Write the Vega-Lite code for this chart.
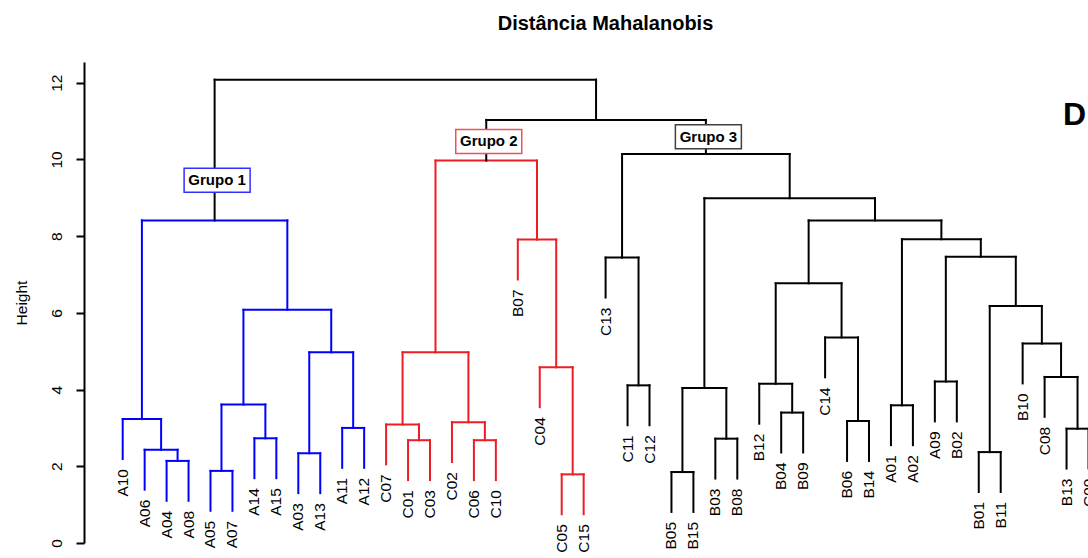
{
  "$schema": "https://vega.github.io/schema/vega-lite/v6.json",
  "width": 1004,
  "height": 481,
  "autosize": {"type": "none"},
  "padding": {"left": 84, "top": 62, "right": 0, "bottom": 15},
  "background": "white",
  "title": {"text": "Distância Mahalanobis", "font": "Liberation Sans", "fontSize": 20, "fontWeight": "bold", "color": "#000000", "anchor": "middle", "frame": "group", "dx": 19.5, "baseline": "alphabetic", "offset": 12},
  "datasets": {
    "merges": [
      {"x1": 3, "h1": 1.10, "x2": 4, "h2": 1.10, "h": 2.14, "g": "1"},
      {"x1": 2, "h1": 1.39, "x2": 3.5, "h2": 2.14, "h": 2.43, "g": "1"},
      {"x1": 1, "h1": 2.19, "x2": 2.75, "h2": 2.43, "h": 3.23, "g": "1"},
      {"x1": 5, "h1": 0.84, "x2": 6, "h2": 0.84, "h": 1.88, "g": "1"},
      {"x1": 7, "h1": 1.69, "x2": 8, "h2": 1.69, "h": 2.73, "g": "1"},
      {"x1": 5.5, "h1": 1.88, "x2": 7.5, "h2": 2.73, "h": 3.61, "g": "1"},
      {"x1": 9, "h1": 1.30, "x2": 10, "h2": 1.30, "h": 2.34, "g": "1"},
      {"x1": 11, "h1": 1.96, "x2": 12, "h2": 1.96, "h": 3.00, "g": "1"},
      {"x1": 9.5, "h1": 2.34, "x2": 11.5, "h2": 3.00, "h": 4.97, "g": "1"},
      {"x1": 6.5, "h1": 3.61, "x2": 10.5, "h2": 4.97, "h": 6.08, "g": "1"},
      {"x1": 1.875, "h1": 3.23, "x2": 8.5, "h2": 6.08, "h": 8.41, "g": "1"},
      {"x1": 14, "h1": 1.64, "x2": 15, "h2": 1.64, "h": 2.68, "g": "2"},
      {"x1": 13, "h1": 2.05, "x2": 14.5, "h2": 2.68, "h": 3.09, "g": "2"},
      {"x1": 17, "h1": 1.64, "x2": 18, "h2": 1.64, "h": 2.68, "g": "2"},
      {"x1": 16, "h1": 2.11, "x2": 17.5, "h2": 2.68, "h": 3.15, "g": "2"},
      {"x1": 13.75, "h1": 3.09, "x2": 16.75, "h2": 3.15, "h": 4.97, "g": "2"},
      {"x1": 21, "h1": 0.75, "x2": 22, "h2": 0.75, "h": 1.79, "g": "2"},
      {"x1": 20, "h1": 3.54, "x2": 21.5, "h2": 1.79, "h": 4.58, "g": "2"},
      {"x1": 19, "h1": 6.87, "x2": 20.75, "h2": 4.58, "h": 7.91, "g": "2"},
      {"x1": 15.25, "h1": 4.97, "x2": 19.875, "h2": 7.91, "h": 9.97, "g": "2"},
      {"x1": 24, "h1": 3.07, "x2": 25, "h2": 3.07, "h": 4.11, "g": "3"},
      {"x1": 23, "h1": 6.40, "x2": 24.5, "h2": 4.11, "h": 7.44, "g": "3"},
      {"x1": 26, "h1": 0.81, "x2": 27, "h2": 0.81, "h": 1.85, "g": "3"},
      {"x1": 28, "h1": 1.68, "x2": 29, "h2": 1.68, "h": 2.72, "g": "3"},
      {"x1": 26.5, "h1": 1.85, "x2": 28.5, "h2": 2.72, "h": 4.04, "g": "3"},
      {"x1": 31, "h1": 2.36, "x2": 32, "h2": 2.36, "h": 3.40, "g": "3"},
      {"x1": 30, "h1": 3.11, "x2": 31.5, "h2": 3.40, "h": 4.15, "g": "3"},
      {"x1": 34, "h1": 2.14, "x2": 35, "h2": 2.14, "h": 3.18, "g": "3"},
      {"x1": 33, "h1": 4.32, "x2": 34.5, "h2": 3.18, "h": 5.36, "g": "3"},
      {"x1": 30.75, "h1": 4.15, "x2": 33.75, "h2": 5.36, "h": 6.77, "g": "3"},
      {"x1": 36, "h1": 2.55, "x2": 37, "h2": 2.55, "h": 3.59, "g": "3"},
      {"x1": 38, "h1": 3.17, "x2": 39, "h2": 3.17, "h": 4.21, "g": "3"},
      {"x1": 40, "h1": 1.33, "x2": 41, "h2": 1.33, "h": 2.37, "g": "3"},
      {"x1": 44, "h1": 1.94, "x2": 45, "h2": 1.94, "h": 2.98, "g": "3"},
      {"x1": 43, "h1": 3.29, "x2": 44.5, "h2": 2.98, "h": 4.33, "g": "3"},
      {"x1": 42, "h1": 4.16, "x2": 43.75, "h2": 4.33, "h": 5.20, "g": "3"},
      {"x1": 40.5, "h1": 2.37, "x2": 42.875, "h2": 5.20, "h": 6.18, "g": "3"},
      {"x1": 38.5, "h1": 4.21, "x2": 41.6875, "h2": 6.18, "h": 7.46, "g": "3"},
      {"x1": 36.5, "h1": 3.59, "x2": 40.09375, "h2": 7.46, "h": 7.92, "g": "3"},
      {"x1": 32.25, "h1": 6.77, "x2": 38.296875, "h2": 7.92, "h": 8.41, "g": "3"},
      {"x1": 27.5, "h1": 4.04, "x2": 35.2734, "h2": 8.41, "h": 8.99, "g": "3"},
      {"x1": 23.75, "h1": 7.44, "x2": 31.3867, "h2": 8.99, "h": 10.14, "g": "3"},
      {"x1": 17.5625, "h1": 9.97, "x2": 27.5684, "h2": 10.14, "h": 11.03, "g": "0"},
      {"x1": 5.1875, "h1": 8.41, "x2": 22.5654, "h2": 11.03, "h": 12.08, "g": "0"}
    ],
    "leaves": [
      {"label": "A10", "x": 1, "h": 2.19}, {"label": "A06", "x": 2, "h": 1.39},
      {"label": "A04", "x": 3, "h": 1.10}, {"label": "A08", "x": 4, "h": 1.10},
      {"label": "A05", "x": 5, "h": 0.84}, {"label": "A07", "x": 6, "h": 0.84},
      {"label": "A14", "x": 7, "h": 1.69}, {"label": "A15", "x": 8, "h": 1.69},
      {"label": "A03", "x": 9, "h": 1.30}, {"label": "A13", "x": 10, "h": 1.30},
      {"label": "A11", "x": 11, "h": 1.96}, {"label": "A12", "x": 12, "h": 1.96},
      {"label": "C07", "x": 13, "h": 2.05}, {"label": "C01", "x": 14, "h": 1.64},
      {"label": "C03", "x": 15, "h": 1.64}, {"label": "C02", "x": 16, "h": 2.11},
      {"label": "C06", "x": 17, "h": 1.64}, {"label": "C10", "x": 18, "h": 1.64},
      {"label": "B07", "x": 19, "h": 6.87}, {"label": "C04", "x": 20, "h": 3.54},
      {"label": "C05", "x": 21, "h": 0.75}, {"label": "C15", "x": 22, "h": 0.75},
      {"label": "C13", "x": 23, "h": 6.40}, {"label": "C11", "x": 24, "h": 3.07},
      {"label": "C12", "x": 25, "h": 3.07}, {"label": "B05", "x": 26, "h": 0.81},
      {"label": "B15", "x": 27, "h": 0.81}, {"label": "B03", "x": 28, "h": 1.68},
      {"label": "B08", "x": 29, "h": 1.68}, {"label": "B12", "x": 30, "h": 3.11},
      {"label": "B04", "x": 31, "h": 2.36}, {"label": "B09", "x": 32, "h": 2.36},
      {"label": "C14", "x": 33, "h": 4.32}, {"label": "B06", "x": 34, "h": 2.14},
      {"label": "B14", "x": 35, "h": 2.14}, {"label": "A01", "x": 36, "h": 2.55},
      {"label": "A02", "x": 37, "h": 2.55}, {"label": "A09", "x": 38, "h": 3.17},
      {"label": "B02", "x": 39, "h": 3.17}, {"label": "B01", "x": 40, "h": 1.33},
      {"label": "B11", "x": 41, "h": 1.33}, {"label": "B10", "x": 42, "h": 4.16},
      {"label": "C08", "x": 43, "h": 3.29}, {"label": "B13", "x": 44, "h": 1.94},
      {"label": "C09", "x": 45, "h": 1.94}
    ],
    "groups": [
      {"label": "Grupo 1", "x": 5.1875, "h": 9.46, "g": "1"},
      {"label": "Grupo 2", "x": 17.5625, "h": 10.47, "g": "2"},
      {"label": "Grupo 3", "x": 27.5684, "h": 10.59, "g": "3"}
    ],
    "corner": [
      {"label": "D", "x": 43.84, "h": 10.886}
    ]
  },
  "layer": [
    {
      "data": {"name": "merges"},
      "mark": {"type": "rule", "strokeWidth": 2, "strokeCap": "square"},
      "encoding": {
        "x": {"field": "x1", "type": "quantitative", "scale": {"domain": [-0.763, 44.977], "nice": false, "zero": false}, "axis": null},
        "x2": {"field": "x2"},
        "y": {"field": "h", "type": "quantitative", "scale": {"domain": [0, 12.54], "nice": false, "zero": false}, "title": "Height"},
        "color": {"field": "g", "type": "nominal", "scale": {"domain": ["0", "1", "2", "3"], "range": ["#000000", "#0000FF", "#EE1C25", "#000000"]}, "legend": null}
      }
    },
    {
      "data": {"name": "merges"},
      "mark": {"type": "rule", "strokeWidth": 2, "strokeCap": "square"},
      "encoding": {
        "x": {"field": "x1", "type": "quantitative", "axis": null},
        "y": {"field": "h", "type": "quantitative", "title": "Height"},
        "y2": {"field": "h1"},
        "color": {"field": "g", "type": "nominal", "scale": {"domain": ["0", "1", "2", "3"], "range": ["#000000", "#0000FF", "#EE1C25", "#000000"]}, "legend": null}
      }
    },
    {
      "data": {"name": "merges"},
      "mark": {"type": "rule", "strokeWidth": 2, "strokeCap": "square"},
      "encoding": {
        "x": {"field": "x2", "type": "quantitative", "axis": null},
        "y": {"field": "h", "type": "quantitative", "title": "Height"},
        "y2": {"field": "h2"},
        "color": {"field": "g", "type": "nominal", "scale": {"domain": ["0", "1", "2", "3"], "range": ["#000000", "#0000FF", "#EE1C25", "#000000"]}, "legend": null}
      }
    },
    {
      "data": {"name": "leaves"},
      "mark": {"type": "text", "angle": 270, "align": "right", "baseline": "middle", "dx": -10, "font": "Liberation Sans", "fontSize": 15.5, "color": "#000000"},
      "encoding": {
        "x": {"field": "x", "type": "quantitative", "axis": null},
        "y": {"field": "h", "type": "quantitative", "title": "Height"},
        "text": {"field": "label"}
      }
    },
    {
      "data": {"name": "groups"},
      "mark": {"type": "point", "shape": "M-1,-0.364L1,-0.364L1,0.364L-1,0.364Z", "size": 4356, "filled": false, "fill": "#ffffff", "fillOpacity": 1, "strokeWidth": 1.5, "opacity": 1, "xOffset": 2.5},
      "encoding": {
        "x": {"field": "x", "type": "quantitative", "axis": null},
        "y": {"field": "h", "type": "quantitative", "title": "Height"},
        "stroke": {"field": "g", "type": "nominal", "scale": {"domain": ["1", "2", "3"], "range": ["#3030FF", "#F05058", "#404040"]}, "legend": null}
      }
    },
    {
      "data": {"name": "groups"},
      "mark": {"type": "text", "align": "center", "baseline": "middle", "dx": 2.5, "font": "Liberation Sans", "fontSize": 15, "fontWeight": "bold", "color": "#000000"},
      "encoding": {
        "x": {"field": "x", "type": "quantitative", "axis": null},
        "y": {"field": "h", "type": "quantitative", "title": "Height"},
        "text": {"field": "label"}
      }
    },
    {
      "data": {"name": "corner"},
      "mark": {"type": "text", "align": "left", "baseline": "alphabetic", "font": "Liberation Sans", "fontSize": 32, "fontWeight": "bold", "color": "#000000"},
      "encoding": {
        "x": {"field": "x", "type": "quantitative", "axis": null},
        "y": {"field": "h", "type": "quantitative", "title": "Height"},
        "text": {"field": "label"}
      }
    }
  ],
  "config": {
    "view": {"stroke": null},
    "axisY": {
      "domainColor": "#000000", "domainWidth": 2, "tickColor": "#000000", "tickWidth": 2, "tickSize": 8,
      "labelFont": "Liberation Sans", "labelFontSize": 15.5, "labelColor": "#000000", "labelAngle": 270, "labelPadding": 12,
      "titleFont": "Liberation Sans", "titleFontSize": 15.5, "titleFontWeight": "normal", "titleColor": "#000000", "titlePadding": 20,
      "grid": false, "tickCount": 7
    }
  }
}
